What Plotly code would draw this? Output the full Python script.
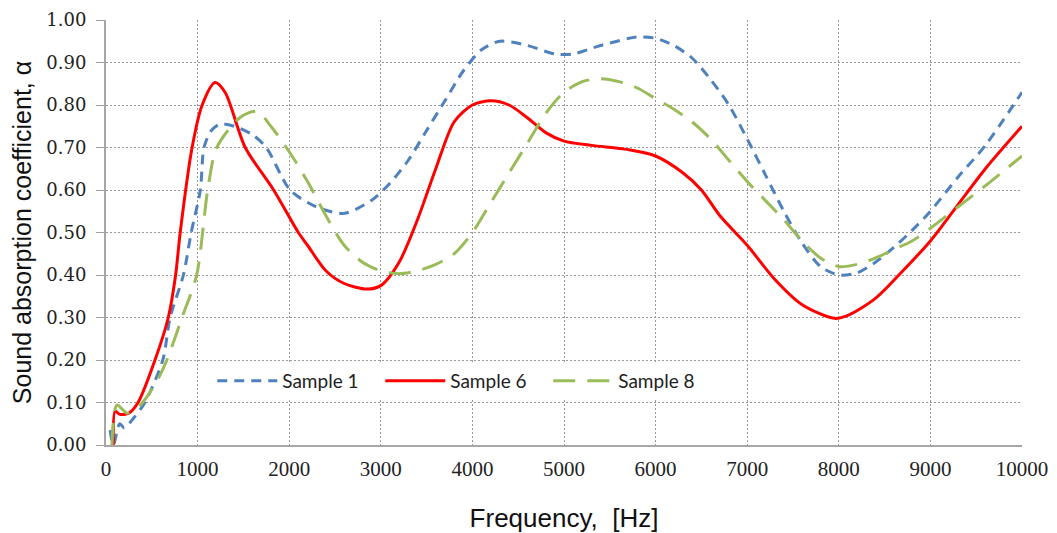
import plotly.graph_objects as go

# Sample 1 (blue dashed)
s1_x = [45, 80, 150, 200, 300, 425, 620, 700, 845, 930, 1030, 1070, 1150, 1245, 1400, 1600, 1750,
        2010, 2300, 2600, 2900, 3100, 3300, 3500, 3700, 3900, 4100, 4300, 4600, 4900, 5100, 5400,
        5800, 6000, 6200, 6400, 6600, 6800, 7000, 7200, 7400, 7600, 7800, 8000, 8200, 8400, 8600,
        8800, 9000, 9300, 9600, 10000]
s1_y = [0.035, 0.0, 0.05, 0.04, 0.063, 0.10, 0.20, 0.30, 0.40, 0.50, 0.60, 0.70, 0.74, 0.755, 0.75,
        0.73, 0.70, 0.60, 0.56, 0.545, 0.576, 0.616, 0.67, 0.74, 0.81, 0.88, 0.93, 0.95, 0.94, 0.92,
        0.92, 0.94, 0.96, 0.957, 0.94, 0.91, 0.86, 0.80, 0.72, 0.635, 0.55, 0.475, 0.42, 0.40, 0.405,
        0.43, 0.465, 0.505, 0.55, 0.63, 0.705, 0.83]

# Sample 6 (red solid)
s6_x = [80, 100, 150, 250, 350, 535, 680, 760, 810, 940, 1050, 1190, 1300, 1520, 1830, 2100, 2200,
        2400, 2600, 2850, 3000, 3200, 3400, 3600, 3800, 4000, 4200, 4400, 4600, 4800, 5000, 5300,
        5700, 6000, 6300, 6500, 6700, 7000, 7300, 7600, 7950, 8100, 8400, 8700, 9000, 9300, 9600,
        10000]
s6_y = [0.0, 0.08, 0.072, 0.075, 0.10, 0.20, 0.30, 0.40, 0.50, 0.70, 0.80, 0.853, 0.83, 0.70, 0.60,
        0.50, 0.47, 0.41, 0.38, 0.367, 0.375, 0.43, 0.53, 0.65, 0.76, 0.80, 0.81, 0.80, 0.77, 0.735,
        0.715, 0.705, 0.695, 0.68, 0.64, 0.60, 0.54, 0.47, 0.39, 0.33, 0.298, 0.305, 0.345, 0.41,
        0.48, 0.565, 0.65, 0.75]

# Sample 8 (green long dash)
s8_x = [65, 120, 230, 340, 400, 555, 665, 830, 990, 1110, 1210, 1460, 1650, 1800, 2000, 2200, 2400,
        2600, 2800, 3000, 3200, 3400, 3600, 3800, 4000, 4200, 4400, 4600, 4800, 5000, 5200, 5400,
        5600, 5800, 6000, 6200, 6400, 6600, 6800, 7000, 7200, 7400, 7600, 7800, 8000, 8200, 8400,
        8600, 8800, 9000, 9300, 9600, 10000]
s8_y = [0.0, 0.094, 0.075, 0.087, 0.10, 0.15, 0.20, 0.30, 0.40, 0.60, 0.70, 0.77, 0.785, 0.75, 0.69,
        0.62, 0.54, 0.47, 0.43, 0.41, 0.403, 0.41, 0.425, 0.45, 0.50, 0.57, 0.64, 0.71, 0.78, 0.83,
        0.855, 0.862, 0.855, 0.84, 0.815, 0.79, 0.76, 0.72, 0.67, 0.62, 0.575, 0.53, 0.48, 0.44,
        0.42, 0.425, 0.44, 0.46, 0.48, 0.51, 0.56, 0.61, 0.68]

names = ["Sample 1", "Sample 6", "Sample 8"]
colors = ["#4F81BD", "#FF0000", "#9BBB59"]
dashes = ["10px,7px", "solid", "22px,12px"]

fig = go.Figure()
for x, y, n, c, d in zip([s1_x, s6_x, s8_x], [s1_y, s6_y, s8_y], names, colors, dashes):
    fig.add_trace(go.Scatter(x=x, y=y, name=n, mode="lines",
                             line=dict(color=c, width=3, dash=d, shape="spline", smoothing=0.8)))

grid = dict(showgrid=True, gridcolor="#999999", gridwidth=1, griddash="2px,2px",
            showline=True, linecolor="#a6a6a6", linewidth=2, zeroline=False, automargin=False)

fig.update_layout(
    width=1041, height=525,
    margin=dict(l=98, r=27, t=12, b=88),
    paper_bgcolor="white", plot_bgcolor="white",
    xaxis=dict(range=[0, 10000], dtick=1000, tick0=0, tickformat="d",
               ticklabelstandoff=4,
               tickfont=dict(family="Liberation Serif", size=21, color="#222"),
               title=dict(text="Frequency,\u00a0 [Hz]", font=dict(family="Liberation Sans", size=26, color="#111"), standoff=38),
               **grid),
    yaxis=dict(range=[0, 1], dtick=0.1, tick0=0, tickformat=".2f",
               ticks="outside", ticklen=8, tickcolor="#a0a0a0", ticklabelstandoff=6,
               tickfont=dict(family="DejaVu Serif", size=18, color="#222"),
               title=dict(text="Sound absorption coefficient, α", font=dict(family="Liberation Sans", size=25, color="#111"), standoff=10),
               **grid),
    legend=dict(orientation="h", x=0.116, y=0.151, xanchor="left", yanchor="middle",
                bgcolor="white", font=dict(family="Lato", size=19, color="#222"),
                itemwidth=60, entrywidth=93, entrywidthmode="pixels"),
    showlegend=True,
)

fig.write_html("out.html")
